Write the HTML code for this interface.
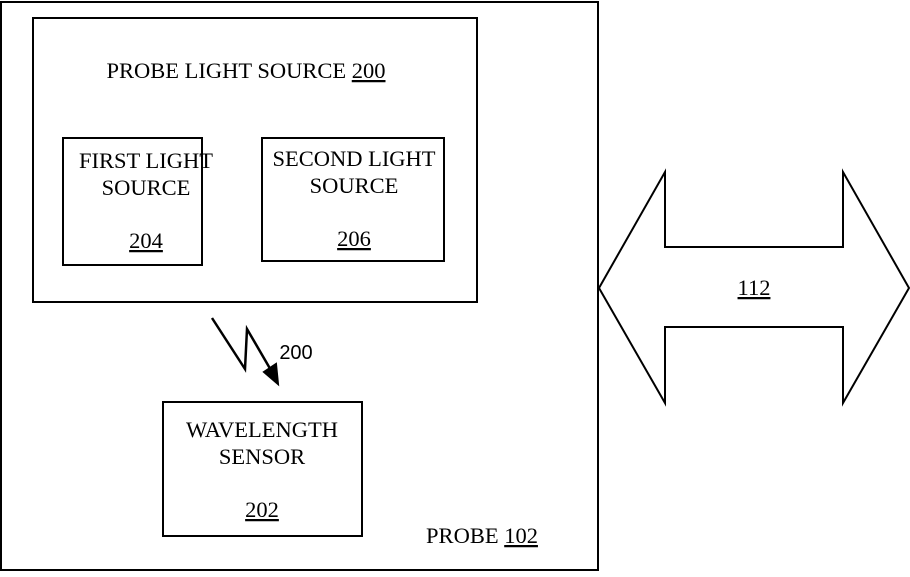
<!DOCTYPE html>
<html><head><style>body{margin:0;background:#fff}</style></head><body>
<svg width="910" height="572" xmlns="http://www.w3.org/2000/svg" font-family="Liberation Serif, serif" font-size="22.5" fill="none" stroke="#000" stroke-width="2">
<rect x="1" y="2" width="597" height="568"/>
<rect x="33" y="18" width="444" height="284"/>
<rect x="63" y="138" width="139" height="127"/>
<rect x="262" y="138" width="182" height="123"/>
<rect x="163" y="402" width="199" height="134"/>
<polygon points="599,288 665,172 665,247 843,247 843,172 909,288 843,403 843,327 665,327 665,403"/>
<polyline points="212,318 245,369 247,329 272,372" stroke-width="2.5"/>
<polygon points="278,384 264,372 276,364" fill="#000"/>
<g fill="#000" stroke="none" text-anchor="middle">
<text x="246" y="78">PROBE LIGHT SOURCE <tspan text-decoration="underline">200</tspan></text>
<text x="146" y="168">FIRST LIGHT</text>
<text x="146" y="195">SOURCE</text>
<text x="146" y="248" text-decoration="underline">204</text>
<text x="354" y="166">SECOND LIGHT</text>
<text x="354" y="193">SOURCE</text>
<text x="354" y="246" text-decoration="underline">206</text>
<text x="262" y="437">WAVELENGTH</text>
<text x="262" y="464">SENSOR</text>
<text x="262" y="517" text-decoration="underline">202</text>
<text x="482" y="543">PROBE <tspan text-decoration="underline">102</tspan></text>
<text x="754" y="295" text-decoration="underline">112</text>
<text x="296" y="359" font-family="Liberation Sans, sans-serif" font-size="20">200</text>
</g>
</svg>
</body></html>
